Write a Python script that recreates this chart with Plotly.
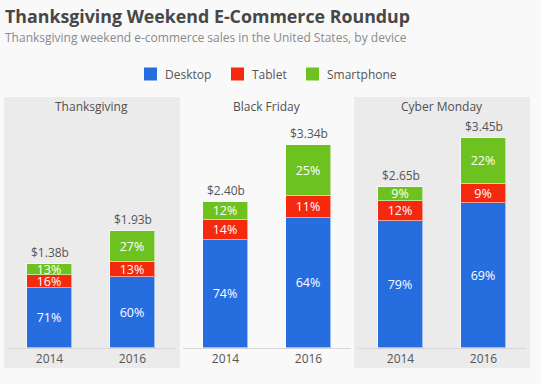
import plotly.graph_objects as go

W, H = 541, 384

days = ["Thanksgiving", "Black Friday", "Cyber Monday"]
years = ["2014", "2016"]
totals = {  # billions USD
    "Thanksgiving": [1.38, 1.93],
    "Black Friday": [2.40, 3.34],
    "Cyber Monday": [2.65, 3.45],
}
total_labels = {
    "Thanksgiving": ["$1.38b", "$1.93b"],
    "Black Friday": ["$2.40b", "$3.34b"],
    "Cyber Monday": ["$2.65b", "$3.45b"],
}
desktop_pct = {"Thanksgiving": [71, 60], "Black Friday": [74, 64], "Cyber Monday": [79, 69]}
tablet_pct = {"Thanksgiving": [16, 13], "Black Friday": [14, 11], "Cyber Monday": [12, 9]}
smartphone_pct = {"Thanksgiving": [13, 27], "Black Friday": [12, 25], "Cyber Monday": [9, 22]}

device_names = ["Desktop", "Tablet", "Smartphone"]
device_colors = ["#266de0", "#f5290d", "#6ec21f"]
device_pcts = [desktop_pct, tablet_pct, smartphone_pct]

FONT = "Open Sans"
TXT = "#555555"

def px_x(p):
    return p / W

def px_y(p):
    return 1 - p / H

x_domains = [(7, 175), (183, 351), (358, 526)]
base_px, top_px = 347.7, 97.0
px_per_b = 60.7
y_top = (base_px - top_px) / px_per_b

fig = go.Figure()
annotations = []
for i, day in enumerate(days):
    xa = "x" if i == 0 else f"x{i+1}"
    ya = "y" if i == 0 else f"y{i+1}"
    for name, pct, color in zip(device_names, device_pcts, device_colors):
        vals = [t * p / 100 for t, p in zip(totals[day], pct[day])]
        fig.add_trace(go.Bar(
            x=years, y=vals, name=name, xaxis=xa, yaxis=ya,
            marker=dict(color=color, line=dict(color="rgba(255,255,255,0.55)", width=1)),
            text=[f"{p}%" for p in pct[day]], textposition="inside",
            insidetextanchor="middle", textangle=0,
            textfont=dict(family=FONT, size=12.5, color="white"),
            showlegend=False, legendgroup=name, width=0.554,
            hoverinfo="skip",
        ))
    for j, (tot, lab) in enumerate(zip(totals[day], total_labels[day])):
        annotations.append(dict(
            x=j, y=tot, xref=xa, yref=ya, text=lab, showarrow=False,
            yanchor="bottom", yshift=1,
            font=dict(family=FONT, size=12, color=TXT),
        ))
    annotations.append(dict(
        x=0.5, xref=f"{xa} domain", y=px_y(107), yref="paper", text=day,
        showarrow=False, yanchor="middle",
        font=dict(family=FONT, size=12, color="#505050"),
    ))

annotations.append(dict(
    x=px_x(3), y=px_y(16), xref="paper", yref="paper", xanchor="left", yanchor="middle",
    text="Thanksgiving Weekend E-Commerce Roundup", showarrow=False,
    font=dict(family=FONT, size=17.8, color="#474747", weight=700),
))
annotations.append(dict(
    x=px_x(3), y=px_y(37.5), xref="paper", yref="paper", xanchor="left", yanchor="middle",
    text="Thanksgiving weekend e-commerce sales in the United States, by device", showarrow=False,
    font=dict(family=FONT, size=12, color="#8a8a8a"),
))

shapes = []
for x0, x1 in [(4, 180), (354, 530)]:
    shapes.append(dict(type="rect", xref="paper", yref="paper",
                       x0=px_x(x0), x1=px_x(x1), y0=px_y(368), y1=px_y(97),
                       fillcolor="#ebebeb", line=dict(width=0), layer="below"))

# legend (drawn manually to match spacing)
legend_x = [144, 231, 306]
for lx, name, color in zip(legend_x, device_names, device_colors):
    shapes.append(dict(type="rect", xref="paper", yref="paper",
                       x0=px_x(lx), x1=px_x(lx + 13), y0=px_y(80.5), y1=px_y(67.5),
                       fillcolor=color, line=dict(width=0)))
    annotations.append(dict(
        x=px_x(lx + 19), y=px_y(74), xref="paper", yref="paper",
        xanchor="left", yanchor="middle", text=name, showarrow=False,
        font=dict(family=FONT, size=12, color=TXT),
    ))

layout = dict(
    width=W, height=H, margin=dict(l=0, r=0, t=0, b=0),
    paper_bgcolor="#f9f9f9", plot_bgcolor="rgba(0,0,0,0)",
    barmode="stack", bargap=0, showlegend=False,
    annotations=annotations, shapes=shapes,
    uniformtext=dict(minsize=12.5, mode="show"),
    font=dict(family=FONT),
)
for i, (a, b) in enumerate(x_domains):
    k = "" if i == 0 else str(i + 1)
    layout[f"xaxis{k}"] = dict(
        domain=[px_x(a), px_x(b)], range=[-0.512, 1.512], type="category",
        showline=True, linecolor="#d6d6d6", linewidth=1, ticks="", showgrid=False,
        tickfont=dict(family=FONT, size=12, color=TXT), anchor=f"y{k}", fixedrange=True,
    )
    layout[f"yaxis{k}"] = dict(
        domain=[px_y(base_px), px_y(top_px)], range=[0, y_top], visible=False,
        anchor=f"x{k}", fixedrange=True,
    )
fig.update_layout(**layout)

html = fig.to_html(config={"displayModeBar": False})
html = html.replace("<head>", "<head><style>html,body{margin:0;padding:0;overflow:hidden;}</style>", 1)
with open("out.html", "w", encoding="utf-8") as f:
    f.write(html)
